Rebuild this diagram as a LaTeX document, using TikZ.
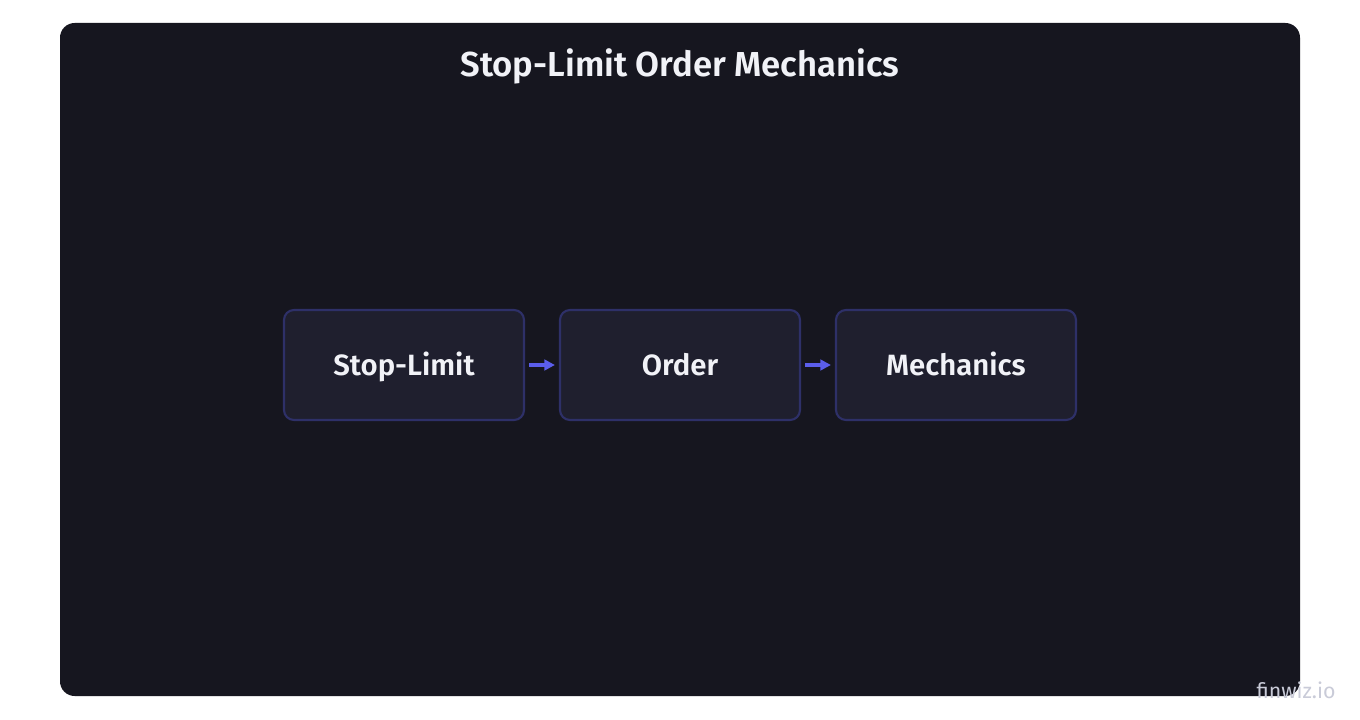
\documentclass[tikz,border=0pt]{standalone}
\usepackage{fontspec}
\setsansfont{Fira Sans}[BoldFont={Fira Sans SemiBold}]
\usetikzlibrary{arrows.meta}
\definecolor{SLPanel}{HTML}{16161F}
\definecolor{SLBox}{HTML}{1F1F2E}
\definecolor{SLBoxStroke}{HTML}{2E3068}
\definecolor{SLArrow}{HTML}{5B5EEB}
\definecolor{SLText}{HTML}{F1F2F7}
\definecolor{SLMark}{HTML}{C9CBD8}
\tikzset{
  stepbox/.style={draw=SLBoxStroke,fill=SLBox,text=SLText,rounded corners=7.5pt,
        line width=1.6pt,minimum width=180pt,minimum height=82.5pt,
        text height=15pt,text depth=0pt,
        font=\sffamily\bfseries\fontsize{22}{26}\selectfont},
  flow/.style={draw=SLArrow,line width=2.4pt,-{Triangle[length=8pt,width=8pt]}}
}
\begin{document}
\begin{tikzpicture}[x=0.75pt,y=-0.75pt,font=\sffamily]
  \useasboundingbox (0,0) rectangle (1360,720);
  \fill[white] (0,0) rectangle (1360,720);
  \node[fill=SLPanel,rounded corners=11pt,minimum width=930pt,minimum height=504.75pt,
        inner sep=0pt] (panel) at (680,359.5) {};
  \node[text=SLText,text height=18pt,text depth=0pt,
        font=\sffamily\bfseries\fontsize{26}{30}\selectfont] (title) at (680,64.5) {Stop-Limit Order Mechanics};

  \node[stepbox] (stop) at (404,365) {Stop-Limit};
  \node[stepbox] (order) at (680,365) {Order};
  \node[stepbox] (mech) at (956,365) {Mechanics};

  \draw[flow] ([xshift=3pt]stop.east) -- ([xshift=-3pt]order.west);
  \draw[flow] ([xshift=3pt]order.east) -- ([xshift=-3pt]mech.west);

  \node[text=SLMark,font=\sffamily\fontsize{16}{19}\selectfont] (mark) at (1296,690) {finwiz.io};
\end{tikzpicture}
\end{document}
